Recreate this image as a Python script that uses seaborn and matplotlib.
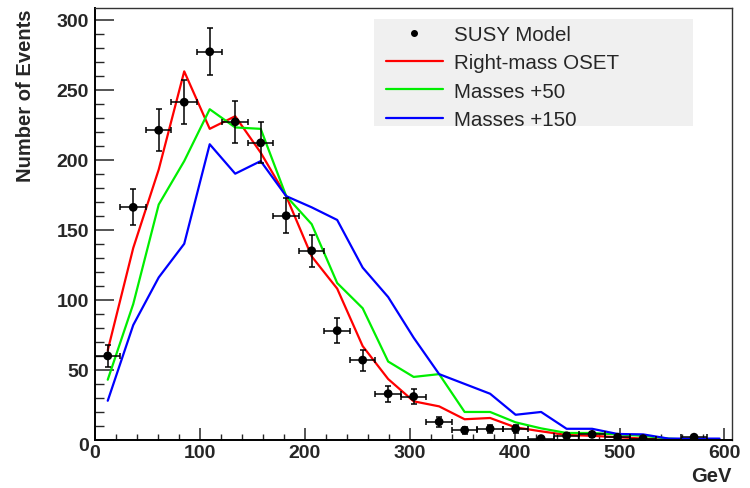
import numpy as np
import pandas as pd
import matplotlib
matplotlib.use("Agg")
import matplotlib.pyplot as plt
import seaborn as sns
from matplotlib.lines import Line2D
from matplotlib.patches import Rectangle
from matplotlib.ticker import MultipleLocator
from matplotlib.transforms import ScaledTranslation

# ---- data ----
bin_centers = [12.15, 36.45, 60.75, 85.05, 109.35, 133.65, 157.95, 182.25, 206.55,
               230.85, 255.15, 279.45, 303.75, 328.05, 352.35, 376.65, 400.95,
               425.25, 449.55, 473.85, 498.15, 522.45, 546.75, 571.05, 595.35]
bin_halfwidth = 12.15
susy = [60, 166, 221, 241, 277, 227, 212, 160, 135, 78, 57, 33, 31, 13, 7, 8, 8,
        1, 3, 4, 2, 1, 0, 2, 0]
susy_err = [7.7, 12.9, 14.9, 15.5, 16.6, 15.1, 14.6, 12.6, 11.6, 8.8, 7.5, 5.7, 5.6,
            3.6, 2.6, 2.8, 2.8, 1.0, 1.7, 2.0, 1.4, 1.0, 0.0, 1.4, 0.0]
right_mass = [64, 137, 193, 263, 222, 231, 205, 174, 131, 108, 67, 43.5, 27.6, 24,
              14.8, 15.7, 9, 6.2, 3.6, 3, 2, 1, 0, 0, 0]
masses_50 = [43, 97, 168, 199, 236, 223, 222, 174, 154, 112, 94, 56, 45, 47, 20, 20,
             12.6, 8.3, 5, 5, 4, 3, 1, 0, 0]
masses_150 = [28, 82, 116, 140, 211, 190, 199, 174, 166, 157, 123, 102, 73, 47, 40,
              33, 18, 20, 8, 8, 4.3, 4, 1, 1, 1]
series_names = ["Right-mass OSET", "Masses +50", "Masses +150"]
series_colors = ["#ff0000", "#00ee00", "#0000ff"]

# ---- style ----
sns.set_style("ticks")
plt.rcParams['font.family'] = ['Liberation Sans', 'DejaVu Sans']
plt.rcParams['font.weight'] = 'bold'

fig = plt.figure(figsize=(7.5, 4.89), dpi=100)
fig.patch.set_facecolor("white")
ax = fig.add_axes([95 / 750, 1 - 441 / 489, (732.3 - 95) / 750, (441 - 9.3) / 489])
ax.set_facecolor("white")

# legend background box
ax.add_patch(Rectangle((0.4378, 0.7267), 0.5001, 0.2485, transform=ax.transAxes,
                       facecolor="#f0f0f0", edgecolor="none", zorder=0.5))

df = pd.DataFrame({
    "x": bin_centers * 3,
    "y": right_mass + masses_50 + masses_150,
    "model": [series_names[0]] * 25 + [series_names[1]] * 25 + [series_names[2]] * 25,
})
sns.lineplot(data=df, x="x", y="y", hue="model", palette=series_colors,
             estimator=None, sort=False, linewidth=1.6, legend=False, ax=ax, zorder=2)

xs = np.array(bin_centers)
ys = np.array(susy, dtype=float)
es = np.array(susy_err)
m = ys > 0
ax.errorbar(xs[m], ys[m], yerr=es[m], xerr=bin_halfwidth, fmt="none", ecolor="black",
            elinewidth=1.1, capsize=2.0, capthick=1.1, zorder=3)
sns.scatterplot(x=xs[m], y=ys[m], color="black", s=40, edgecolor="none", ax=ax, zorder=4)

ax.set_xlim(0, 607.5)
ax.set_ylim(0, 308)
ax.xaxis.set_major_locator(MultipleLocator(100))
ax.xaxis.set_minor_locator(MultipleLocator(20))
ax.yaxis.set_major_locator(MultipleLocator(50))
ax.yaxis.set_minor_locator(MultipleLocator(10))
ax.tick_params(axis="y", which="major", direction="in", length=13.7, width=1.1,
               pad=4.5, labelsize=14)
ax.tick_params(axis="y", which="minor", direction="in", length=6.7, width=1.0)
ax.tick_params(axis="x", which="major", direction="in", length=8.6, width=1.1,
               pad=2.6, labelsize=14)
ax.tick_params(axis="x", which="minor", direction="in", length=4.5, width=1.0)
ax.set_xlabel("")
ax.set_ylabel("")

for s in ["left", "bottom"]:
    ax.spines[s].set_linewidth(1.4)
    ax.spines[s].set_color("black")
for s in ["top", "right"]:
    ax.spines[s].set_linewidth(1.0)
    ax.spines[s].set_color("#333333")

fig.text(26 / 750, 1 - 10 / 489, "Number of Events", rotation=90, ha="center", va="top",
         fontsize=14.5, fontweight="bold")
fig.text(731 / 750, 1 - 477 / 489, "GeV", ha="right", va="center",
         fontsize=14.5, fontweight="bold")

handles = [Line2D([], [], marker="o", ls="none", color="black", markersize=4)]
handles += [Line2D([], [], color=c, lw=1.6) for c in series_colors]
labels = ["SUSY Model"] + series_names
ax.legend(handles, labels, loc="upper left", bbox_to_anchor=(0.4566, 0.962),
          frameon=False, borderpad=0, borderaxespad=0,
          prop={"family": ["Liberation Sans"], "weight": "normal", "size": 14.8},
          handlelength=2.75, handletextpad=0.55, labelspacing=0.46)

# ROOT places the y "0" label slightly lower
fig.canvas.draw()
for lab in ax.get_yticklabels():
    if lab.get_text() == "0":
        lab.set_transform(lab.get_transform() + ScaledTranslation(0, -4 / 100, fig.dpi_scale_trans))

fig.savefig("out.png", dpi=100, facecolor="white")
